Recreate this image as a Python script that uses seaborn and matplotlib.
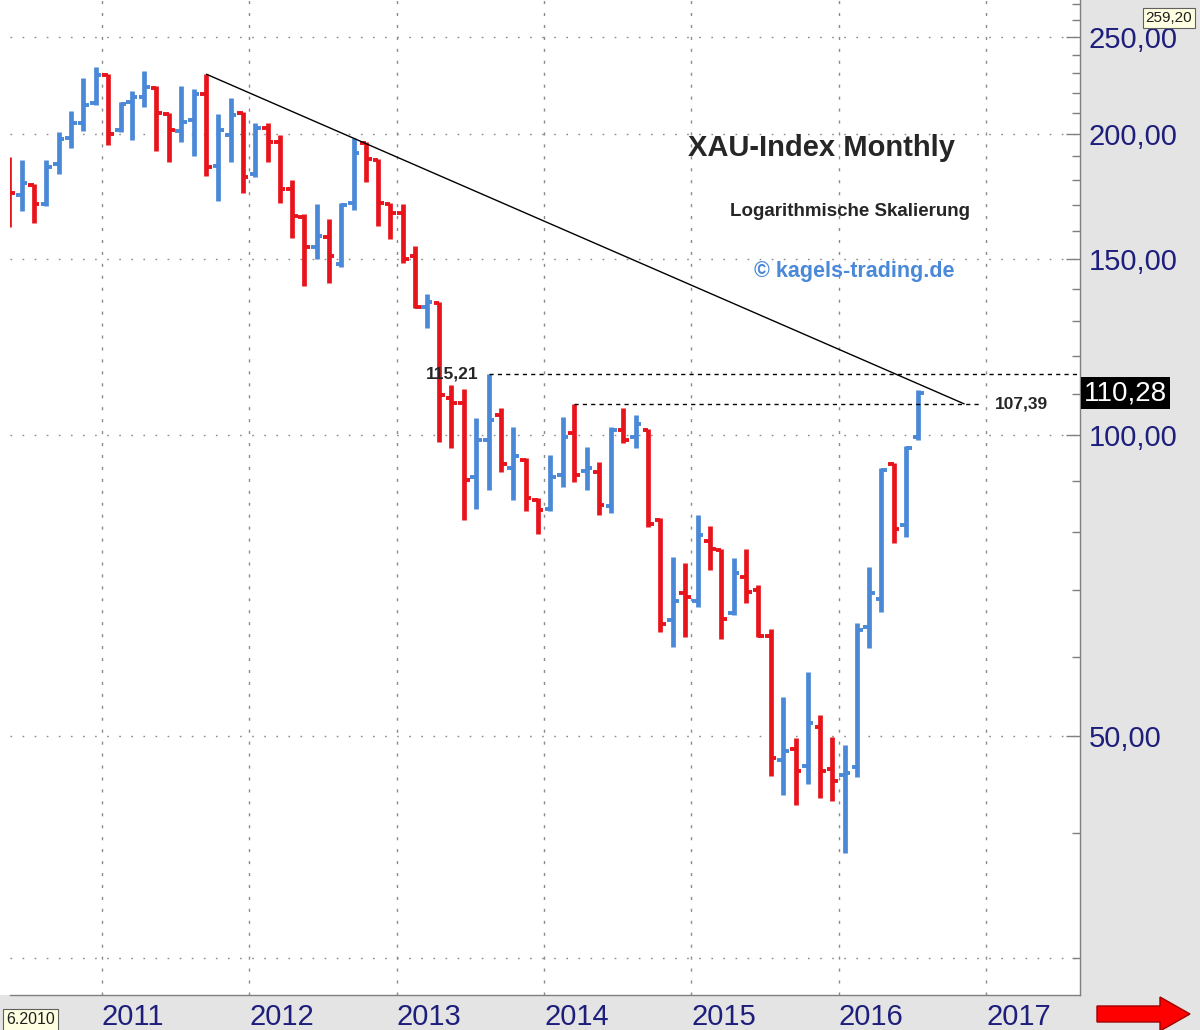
import matplotlib
matplotlib.use("Agg")
import matplotlib.pyplot as plt
import matplotlib.ticker as mticker
from matplotlib.patches import FancyArrow, Rectangle
import numpy as np
import pandas as pd
import seaborn as sns

# XAU index, monthly bars May 2010 .. Jul 2016
opens = [186.2, 173.8, 177.8, 170.2, 186.6, 198.2, 205.1, 214.8,
         229.1, 201.8, 215.3, 217.8, 222.3, 209.4, 201.4, 206.5, 219.3, 185.8, 199.5, 209.9,
         182.4, 202.8, 196.3, 176.2, 165.2, 154.2, 157.8, 148.2, 170.6, 195.9, 188.4, 170.2,
         166.7, 151.0, 134.3, 135.5, 108.9, 107.6, 90.8, 98.9, 104.7, 92.7, 94.4, 86.1,
         84.3, 91.2, 100.5, 92.0, 91.8, 84.9, 101.2, 99.5, 101.2, 82.2, 65.3, 69.5,
         68.2, 78.3, 76.7, 66.4, 72.1, 70.0, 63.0, 47.3, 48.5, 46.7, 51.1, 46.3,
         45.7, 46.6, 64.3, 68.5, 93.5, 81.3, 99.5]
highs = [189.7, 188.4, 178.2, 188.4, 200.9, 210.9, 227.5, 233.3,
         229.6, 215.3, 220.8, 231.2, 223.4, 209.9, 223.4, 221.8, 229.6, 209.4, 217.3, 210.4,
         205.1, 205.1, 199.5, 179.9, 166.3, 170.2, 164.4, 170.6, 198.2, 196.3, 188.8, 170.6,
         170.2, 154.5, 138.4, 135.8, 112.2, 111.2, 104.0, 115.21, 106.4, 101.9, 94.8, 86.5,
         95.5, 104.2, 107.39, 97.3, 94.0, 101.9, 106.4, 104.7, 101.4, 82.6, 75.5, 74.5,
         83.2, 81.1, 76.9, 75.3, 76.9, 70.8, 64.0, 54.7, 49.8, 57.9, 52.5, 49.9,
         49.0, 64.9, 73.8, 92.7, 93.8, 97.5, 110.9]
lows = [161.4, 167.5, 162.9, 169.4, 182.4, 193.6, 201.4, 213.8,
        195.0, 200.9, 197.2, 212.8, 192.3, 187.5, 196.3, 190.1, 181.6, 171.4, 187.5, 174.6,
        181.1, 187.5, 170.6, 157.4, 140.9, 150.0, 141.9, 147.2, 167.9, 179.1, 161.8, 157.0,
        148.6, 134.0, 127.9, 98.4, 97.0, 82.2, 84.3, 88.1, 91.8, 86.1, 83.9, 79.6,
        83.9, 88.7, 89.7, 88.1, 83.2, 83.6, 98.2, 97.0, 80.9, 63.5, 61.4, 62.8,
        67.3, 73.3, 62.5, 66.1, 67.9, 62.8, 45.6, 43.6, 42.7, 44.8, 43.3, 43.1,
        38.2, 45.5, 61.2, 66.5, 78.0, 79.1, 98.9]
closes = [174.6, 178.6, 170.2, 185.4, 197.7, 205.1, 213.8, 229.1,
          200.0, 214.3, 217.8, 222.8, 209.9, 201.8, 205.6, 219.3, 185.4, 201.8, 208.9, 181.1,
          202.8, 196.3, 176.2, 165.6, 154.2, 158.1, 151.0, 169.8, 191.4, 188.8, 170.6, 166.7,
          150.0, 134.3, 135.8, 109.6, 107.6, 90.2, 98.9, 103.5, 93.5, 95.3, 86.5, 84.1,
          90.8, 99.5, 91.2, 92.7, 85.1, 101.2, 98.9, 102.6, 81.5, 64.7, 68.2, 68.9,
          79.4, 76.9, 65.5, 72.8, 69.7, 63.0, 47.5, 48.3, 46.1, 51.5, 46.1, 45.1,
          45.9, 63.8, 69.5, 92.3, 80.5, 97.1, 110.28]
first_month = "2010-05-01"

year_labels = ["2011", "2012", "2013", "2014", "2015", "2016", "2017"]
price_ticks = [50, 100, 150, 200, 250]
price_labels = ["50,00", "100,00", "150,00", "200,00", "250,00"]
minor_ticks = [30, 40, 60, 70, 80, 90, 110, 120, 130, 140, 160, 170, 180, 190,
               210, 220, 230, 240, 260, 270]
grid_levels = [30, 50, 100, 150, 200, 250]

resistance_1 = 115.21
resistance_2 = 107.39
last_close = 110.28
scale_top = 259.20

BLUE = "#4a88d8"
RED = "#e8141c"
NAVY = "#1e1e7c"
GREY = "#7f7f7f"

sns.set_style("white")
plt.rcParams["font.family"] = ["Liberation Sans", "DejaVu Sans"]
plt.rcParams["lines.solid_capstyle"] = "butt"

W, H = 1200, 1030
fig = plt.figure(figsize=(W / 100, H / 100), dpi=100, facecolor="#e4e4e4")
ax = fig.add_axes([10 / W, 35 / H, 1070 / W, 995 / H])
ax.set_facecolor("white")

bars = pd.DataFrame({"open": opens, "high": highs, "low": lows, "close": closes})
bars["date"] = pd.date_range(first_month, periods=len(bars), freq="MS") + pd.Timedelta(days=15)
bars["dir"] = np.where(bars["close"] >= bars["open"], "up", "down")
bars["bar"] = range(len(bars))
pal = {"up": BLUE, "down": RED}

# high-low lines
hl = bars.melt(id_vars=["bar", "date", "dir"], value_vars=["low", "high"], value_name="price")
sns.lineplot(data=hl, x="date", y="price", hue="dir", units="bar", estimator=None,
             palette=pal, linewidth=3.4, legend=False, ax=ax, zorder=3)

# open tick to the left, close tick to the right
tick_len = pd.Timedelta(days=14)
rows = []
for i, r in bars.iterrows():
    rows += [(2 * i, r.date - tick_len, r.open, r.dir), (2 * i, r.date, r.open, r.dir),
             (2 * i + 1, r.date, r.close, r.dir), (2 * i + 1, r.date + tick_len, r.close, r.dir)]
ticks = pd.DataFrame(rows, columns=["seg", "date", "price", "dir"])
sns.lineplot(data=ticks, x="date", y="price", hue="dir", units="seg", estimator=None,
             palette=pal, linewidth=2.8, legend=False, ax=ax, zorder=3)

ax.set_yscale("log")
x0, x1 = pd.Timestamp("2010-05-18"), pd.Timestamp("2017-08-21")
ax.set_xlim(x0, x1)
ax.set_ylim(27.54, 272.3)

# trend line from the Sep 2011 high
d_top = bars["date"][16]
d_end = pd.Timestamp("2016-11-08")
trend = pd.DataFrame({"date": [d_top, d_end], "price": [highs[16], resistance_2]})
sns.lineplot(data=trend, x="date", y="price", color="black", linewidth=1.0, ax=ax, zorder=4)

# horizontal resistance lines
d_r1 = bars["date"][39]
d_r2 = bars["date"][46]
ax.hlines(resistance_1, d_r1, x1, colors="black", lw=1.0, linestyles=(0, (3, 3)), zorder=4)
ax.hlines(resistance_2, d_r2, pd.Timestamp("2016-12-22"), colors="black", lw=1.0,
          linestyles=(0, (3, 3)), zorder=4)
ax.annotate("115,21", xy=(d_r1, resistance_1), xytext=(-7, 0), textcoords="offset points",
            ha="right", va="center", fontsize=12.5, fontweight="bold", zorder=6)
ax.annotate("107,39", xy=(pd.Timestamp("2016-12-22"), resistance_2), xytext=(9, 0),
            textcoords="offset points", ha="left", va="center", fontsize=12.5,
            fontweight="bold", zorder=6)

# grid
year_dates = [pd.Timestamp(f"{y}-01-01") for y in year_labels]
for lvl in grid_levels:
    ax.axhline(lvl, color="#8a8a8a", lw=1.0, ls=(0, (1.2, 7.5)), zorder=1)
for d in year_dates:
    ax.axvline(d, color="#8a8a8a", lw=1.0, ls=(0, (2.2, 6.4)), zorder=1)

ax.set_xlabel("")
ax.set_ylabel("")
for s in ["top", "left"]:
    ax.spines[s].set_visible(False)
for s in ["right", "bottom"]:
    ax.spines[s].set_color(GREY)
    ax.spines[s].set_linewidth(1.0)

ax.yaxis.tick_right()
ax.set_yticks(price_ticks)
ax.set_yticklabels(price_labels)
ax.yaxis.set_minor_locator(mticker.FixedLocator(minor_ticks))
ax.yaxis.set_minor_formatter(mticker.NullFormatter())
ax.tick_params(axis="y", which="major", direction="in", length=10, width=1, color=GREY,
               pad=6, labelsize=21, labelcolor=NAVY)
ax.tick_params(axis="y", which="minor", direction="in", length=6, width=1, color=GREY)

ax.set_xticks(year_dates)
ax.set_xticklabels(year_labels, ha="left")
ax.xaxis.set_minor_locator(mticker.NullLocator())
ax.tick_params(axis="x", which="major", direction="in", length=4, width=1, color=GREY,
               pad=6, labelsize=21, labelcolor=NAVY)

# overlay in pixel coordinates for the annotations around the plot
ov = fig.add_axes([0, 0, 1, 1], zorder=5)
ov.set_xlim(0, W)
ov.set_ylim(H, 0)
ov.axis("off")
ov.patch.set_alpha(0)
ov.add_patch(Rectangle((0, 0), 10, 995, fc="white", ec="none"))

ov.text(955, 148, "XAU-Index Monthly", ha="right", va="center", fontsize=21, fontweight="bold")
ov.text(970, 212, "Logarithmische Skalierung", ha="right", va="center", fontsize=13.5,
        fontweight="bold")
ov.text(955, 272, "\u00a9 kagels-trading.de", ha="right", va="center", fontsize=15.5,
        fontweight="bold", color=BLUE)

ov.text(1084, 393, f"{last_close:.2f}".replace(".", ","), ha="left", va="center", fontsize=20,
        color="white", bbox=dict(boxstyle="square,pad=0.12", fc="black", ec="none"))
ov.text(1169, 18, f"{scale_top:.2f}".replace(".", ","), ha="center", va="center", fontsize=11,
        color="#202020", bbox=dict(boxstyle="square,pad=0.2", fc="#ffffe1", ec="#606060", lw=0.8))
ov.text(55, 1020, "6.2010", ha="right", va="center", fontsize=11.5, color="#202020",
        bbox=dict(boxstyle="square,pad=0.2", fc="#ffffe1", ec="#606060", lw=0.8))

ov.add_patch(FancyArrow(1097, 1014, 93, 0, width=16, head_width=34, head_length=30,
                        length_includes_head=True, fc="#ff0000", ec="#a00000", lw=1))

fig.savefig("out.png", dpi=100, facecolor=fig.get_facecolor())
